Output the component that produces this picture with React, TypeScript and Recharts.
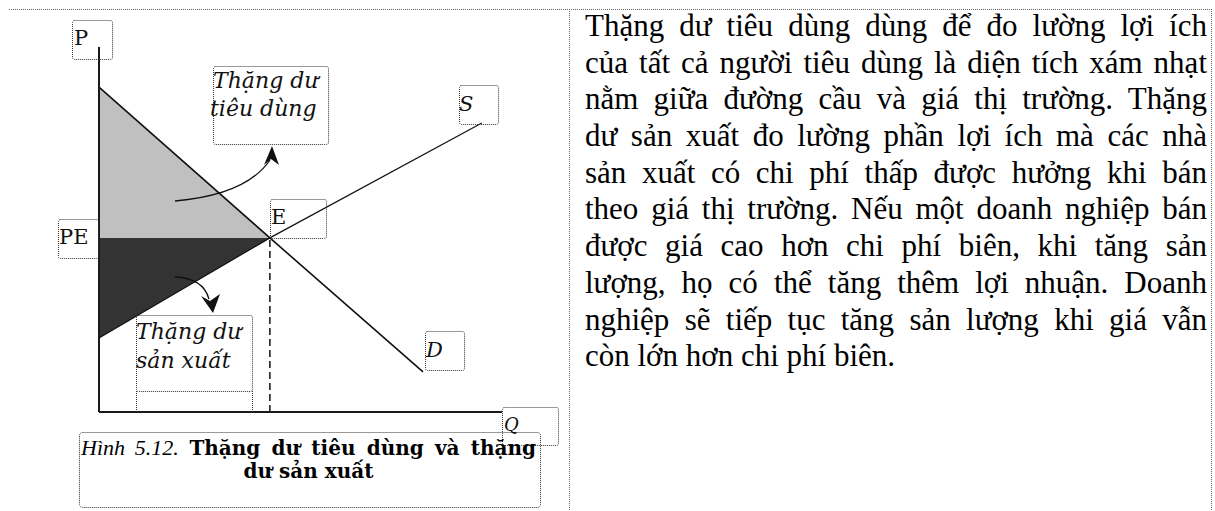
import React from 'react';
import { ComposedChart, Area, Line, XAxis, YAxis, ReferenceLine } from 'recharts';

// Values (P and Q both on a 0–100 scale)
const quantity = [0, 42.4, 80.4, 95.0];
const demandPrice: (number | null)[] = [89.0, 47.7, 11.0, null];
const supplyPrice: (number | null)[] = [20.3, 47.7, null, 79.2];
const equilibriumQuantity = 42.4;
const equilibriumPrice = 47.7;

const priceAxisLabel = 'P';
const quantityAxisLabel = 'Q';
const equilibriumPriceLabel = 'PE';
const equilibriumLabel = 'E';
const supplyLabel = 'S';
const demandLabel = 'D';
const consumerSurplusLabel = ['Thặng dư', 'tiêu dùng'];
const producerSurplusLabel = ['Thặng dư', 'sản xuất'];
const captionNumber = 'Hình 5.12.';
const captionTitle = ['Thặng dư tiêu dùng và thặng', 'dư sản xuất'];

const paragraphLines = [
  'Thặng dư tiêu dùng dùng để đo lường lợi ích',
  'của tất cả người tiêu dùng là diện tích xám nhạt',
  'nằm giữa đường cầu và giá thị trường. Thặng',
  'dư sản xuất đo lường phần lợi ích mà các nhà',
  'sản xuất có chi phí thấp được hưởng khi bán',
  'theo giá thị trường. Nếu một doanh nghiệp bán',
  'được giá cao hơn chi phí biên, khi tăng sản',
  'lượng, họ có thể tăng thêm lợi nhuận. Doanh',
  'nghiệp sẽ tiếp tục tăng sản lượng khi giá vẫn',
  'còn lớn hơn chi phí biên.',
];

const chartData = quantity.map((q, i) => ({
  q,
  demand: demandPrice[i],
  supply: supplyPrice[i],
  consumerSurplus:
    q <= equilibriumQuantity && demandPrice[i] != null ? [equilibriumPrice, demandPrice[i] as number] : null,
  producerSurplus:
    q <= equilibriumQuantity && supplyPrice[i] != null ? [supplyPrice[i] as number, equilibriumPrice] : null,
}));

const dotted = { fill: 'none', stroke: '#333', strokeWidth: 1, strokeDasharray: '1 1' };
const tableLine = { stroke: '#666', strokeWidth: 1, strokeDasharray: '1 1' };
const serif = "'DejaVu Serif', serif";

function Box({ x, y, w, h }: { x: number; y: number; w: number; h: number }) {
  return <rect x={x + 0.5} y={y + 0.5} width={w} height={h} rx={2} {...dotted} />;
}

export default function App() {
  return (
    <div style={{ position: 'absolute', left: 0, top: 0, width: 1215, height: 511, background: '#fff', overflow: 'hidden' }}>
      <div style={{ position: 'absolute', left: 0, top: 0 }}>
        <ComposedChart
          width={569}
          height={430}
          data={chartData}
          margin={{ top: 47, right: 67, bottom: 8, left: 89 }}
        >
          <XAxis
            type="number"
            dataKey="q"
            domain={[0, 100]}
            tick={false}
            tickLine={false}
            height={10}
            axisLine={{ stroke: '#1a1a1a', strokeWidth: 2 }}
          />
          <YAxis
            type="number"
            domain={[0, 100]}
            tick={false}
            tickLine={false}
            width={10}
            axisLine={{ stroke: '#1a1a1a', strokeWidth: 2 }}
          />
          <Area
            type="linear"
            dataKey="consumerSurplus"
            fill="#c0c0c0"
            fillOpacity={1}
            stroke="none"
            dot={false}
            activeDot={false}
            isAnimationActive={false}
          />
          <Area
            type="linear"
            dataKey="producerSurplus"
            fill="#333333"
            fillOpacity={1}
            stroke="none"
            dot={false}
            activeDot={false}
            isAnimationActive={false}
          />
          <ReferenceLine
            segment={[
              { x: equilibriumQuantity, y: 0 },
              { x: equilibriumQuantity, y: equilibriumPrice },
            ]}
            stroke="#111"
            strokeWidth={1.5}
            strokeDasharray="7 4"
          />
          <Line
            type="linear"
            dataKey="demand"
            stroke="#111"
            strokeWidth={1.6}
            dot={false}
            activeDot={false}
            connectNulls
            isAnimationActive={false}
          />
          <Line
            type="linear"
            dataKey="supply"
            stroke="#111"
            strokeWidth={1.2}
            dot={false}
            activeDot={false}
            connectNulls
            isAnimationActive={false}
          />
        </ComposedChart>
      </div>

      <svg
        width={1215}
        height={511}
        style={{ position: 'absolute', left: 0, top: 0, pointerEvents: 'none' }}
      >
        {/* table frame */}
        <line x1={9} y1={9.5} x2={1212} y2={9.5} {...tableLine} />
        <line x1={569.5} y1={9} x2={569.5} y2={511} {...tableLine} />
        <line x1={1211.5} y1={9} x2={1211.5} y2={511} {...tableLine} />

        {/* label boxes */}
        <Box x={72} y={20} w={40} h={39} />
        <Box x={58} y={219} w={40} h={39} />
        <Box x={270} y={199} w={56} h={39} />
        <Box x={459} y={85} w={39} h={39} />
        <Box x={425} y={331} w={39} h={39} />
        <Box x={502} y={407} w={56} h={38} />
        <Box x={213} y={66} w={115} h={78} />
        <Box x={136} y={315} w={116} h={76} />
        <line x1={136.5} y1={391} x2={136.5} y2={410} {...dotted} />
        <line x1={252.5} y1={391} x2={252.5} y2={410} {...dotted} />
        <rect x={79.5} y={432.5} width={461} height={75} rx={3} {...dotted} />

        {/* arrows */}
        <path d="M175,201 Q246,195 270,160" fill="none" stroke="#111" strokeWidth={1.3} />
        <path d="M272,146 L279,165 L271,159 L264,165 Z" fill="#111" />
        <path d="M175,277 Q203,278 209,299" fill="none" stroke="#111" strokeWidth={1.3} />
        <path d="M213,313 L201,296 L210,301 L220,294 Z" fill="#111" />

        {/* labels */}
        <g fontFamily={serif} fontSize={21} fill="#111">
          <text x={74} y={45}>{priceAxisLabel}</text>
          <text x={59} y={244}>{equilibriumPriceLabel}</text>
          <text x={271} y={224}>{equilibriumLabel}</text>
          <text x={459} y={111} fontStyle="italic">{supplyLabel}</text>
          <text x={426} y={357} fontStyle="italic">{demandLabel}</text>
          <text x={504} y={431} fontStyle="italic" fontSize={18}>{quantityAxisLabel}</text>
        </g>
        <g fontFamily={serif} fontSize={22} fill="#111" fontStyle="italic">
          <text x={213} y={88}>{consumerSurplusLabel[0]}</text>
          <text x={210} y={116}>{consumerSurplusLabel[1]}</text>
          <text x={136} y={339}>{producerSurplusLabel[0]}</text>
          <text x={136} y={368}>{producerSurplusLabel[1]}</text>
        </g>
      </svg>

      {/* caption */}
      <div
        style={{
          position: 'absolute',
          left: 81,
          top: 436,
          width: 455,
          fontFamily: serif,
          fontSize: 20,
          lineHeight: '23px',
          color: '#000',
        }}
      >
        <div style={{ textAlign: 'justify', textAlignLast: 'justify' }}>
          <span style={{ fontFamily: "'Liberation Serif', serif", fontStyle: 'italic', fontSize: 22 }}>{captionNumber}</span>{' '}
          <b>{captionTitle[0]}</b>
        </div>
        <div style={{ textAlign: 'center', fontWeight: 'bold' }}>{captionTitle[1]}</div>
      </div>

      {/* paragraph */}
      <div
        style={{
          position: 'absolute',
          left: 585,
          top: 8,
          width: 622,
          fontFamily: "'Liberation Serif', serif",
          fontSize: 31,
          lineHeight: '36.7px',
          color: '#000',
        }}
      >
        {paragraphLines.map((line, i) => (
          <div
            key={i}
            style={{
              textAlign: i === paragraphLines.length - 1 ? 'left' : 'justify',
              textAlignLast: i === paragraphLines.length - 1 ? 'left' : 'justify',
              height: 36.7,
            }}
          >
            {line}
          </div>
        ))}
      </div>
    </div>
  );
}
